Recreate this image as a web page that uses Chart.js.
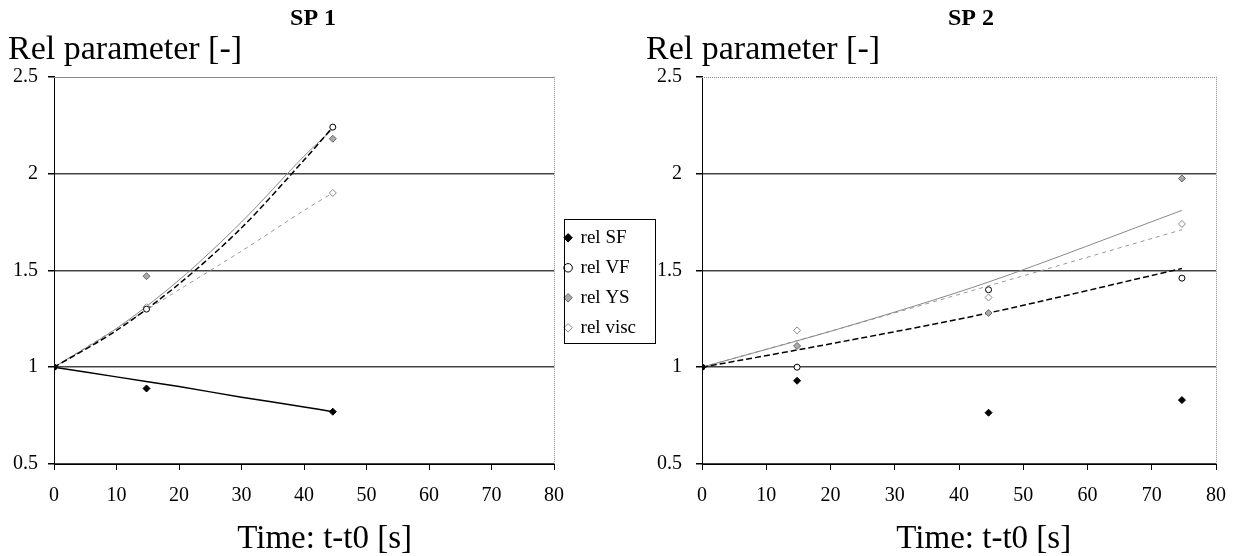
<!DOCTYPE html>
<html>
<head>
<meta charset="utf-8">
<script src="https://cdn.jsdelivr.net/npm/chart.js@4.4.1/dist/chart.umd.min.js"></script>
<style>
  body { margin: 0; background: #fff; }
  #wrap { position: relative; width: 1241px; height: 556px; background: #fff; overflow: hidden; }
  #c1 { position: absolute; left: 0; top: 0; }
  #c2 { position: absolute; left: 638px; top: 0; }
</style>
</head>
<body>
<div id="wrap">
  <canvas id="c2" width="603" height="556"></canvas>
  <canvas id="c1" width="660" height="556"></canvas>
</div>
<script>
// SP 1 measurements
var sp1Time = [0, 14.8, 44.6];
var sp1RelSF = [1, 0.89, 0.77];
var sp1RelVF = [1, 1.30, 2.24];
var sp1RelYS = [1, 1.47, 2.18];
var sp1RelVisc = [1, 1.31, 1.90];

// SP 1 trend lines
var sp1TrendTime = [0, 10, 20, 30, 40, 44.6];
var sp1TrendSF = [1, 0.95, 0.9, 0.845, 0.795, 0.77];
var sp1TrendVF = [1, 1.19, 1.43, 1.72, 2.07, 2.24];
var sp1TrendYS = [1, 1.20, 1.45, 1.75, 2.09, 2.23];
var sp1TrendVisc = [1, 1.20, 1.40, 1.60, 1.81, 1.90];

// SP 2 measurements
var sp2Time = [0, 14.8, 44.6, 74.7];
var sp2RelSF = [1, 0.93, 0.765, 0.83];
var sp2RelVF = [1, 1.00, 1.40, 1.46];
var sp2RelYS = [1, 1.11, 1.28, 1.975];
var sp2RelVisc = [1, 1.19, 1.36, 1.74];

// SP 2 trend lines
var sp2TrendTime = [0, 21.5, 44.6, 74.7];
var sp2TrendVF = [1, 1.13, 1.28, 1.51];
var sp2TrendYS = [1, 1.20, 1.44, 1.81];
var sp2TrendVisc = [1, 1.20, 1.42, 1.71];

var seriesNames = ["rel SF", "rel VF", "rel YS", "rel visc"];
var yTicks = [0.5, 1, 1.5, 2, 2.5];
var xTicks = [0, 10, 20, 30, 40, 50, 60, 70, 80];

var serif = "'Liberation Serif', 'Times New Roman', serif";

function pts(xs, ys) {
  return xs.map(function(x, i) { return { x: x, y: ys[i] }; });
}

function pointSet(label, xs, ys, style, bg, border, r) {
  return {
    label: label,
    data: pts(xs, ys),
    showLine: false,
    pointStyle: style,
    backgroundColor: bg,
    borderColor: border,
    borderWidth: 1,
    pointRadius: r,
    order: 0
  };
}

function trendSet(label, xs, ys, color, dash, width) {
  return {
    label: "trend " + label,
    data: pts(xs, ys),
    showLine: true,
    borderColor: color,
    borderWidth: width,
    borderDash: dash,
    pointRadius: 0,
    tension: 0.3,
    fill: false,
    order: 1
  };
}

// frame on top / right side of the plot
var framePlugin = {
  id: "frame",
  afterDraw: function(chart, args, opts) {
    var a = chart.chartArea;
    var ctx = chart.ctx;
    ctx.save();
    ctx.strokeStyle = "#888";
    ctx.lineWidth = 1;
    ctx.setLineDash(opts.topDash || []);
    ctx.beginPath();
    ctx.moveTo(a.left, Math.round(a.top) + 0.5);
    ctx.lineTo(a.right, Math.round(a.top) + 0.5);
    ctx.stroke();
    ctx.setLineDash([1, 1]);
    ctx.beginPath();
    ctx.moveTo(Math.round(a.right) + 0.5, a.top);
    ctx.lineTo(Math.round(a.right) + 0.5, a.bottom);
    ctx.stroke();
    ctx.restore();
  }
};

// box round the legend items
var legendBox = {
  id: "legendBox",
  afterDraw: function(chart) {
    var lg = chart.legend;
    if (!lg || !lg.legendHitBoxes || !lg.legendHitBoxes.length) return;
    var hb = lg.legendHitBoxes;
    var top = hb[0].top, left = hb[0].left, right = 0, bottom = 0;
    hb.forEach(function(h) {
      top = Math.min(top, h.top);
      left = Math.min(left, h.left);
      right = Math.max(right, h.left + h.width);
      bottom = Math.max(bottom, h.top + h.height);
    });
    var ctx = chart.ctx;
    ctx.save();
    ctx.strokeStyle = "#000";
    ctx.lineWidth = 1;
    var x0 = Math.round(left - 1) + 0.5, y0 = Math.round(top - 9) + 0.5;
    var x1 = Math.round(right + 19) + 0.5, y1 = Math.round(bottom + 6) + 0.5;
    ctx.strokeRect(x0, y0, x1 - x0, y1 - y0);
    ctx.restore();
  }
};

function makeOptions(title, xTitle, showLegend, topDash, yWidth, tickPad, padRight) {
  return {
    responsive: false,
    animation: false,
    layout: { padding: { left: 8, right: padRight, top: 0, bottom: 0 } },
    plugins: {
      frame: { topDash: topDash },
      title: {
        display: true,
        text: title,
        fullSize: false,
        color: "#000",
        font: { family: serif, size: 24, weight: "bold" },
        padding: { top: 4, bottom: 0 }
      },
      subtitle: {
        display: true,
        text: "Rel parameter [-]",
        align: "start",
        color: "#000",
        font: { family: serif, size: 34, lineHeight: 1 },
        padding: { top: 0, bottom: 10 }
      },
      legend: {
        display: showLegend,
        position: "right",
        title: { display: true, text: " ", font: { size: 8 }, padding: 0 },
        labels: {
          usePointStyle: true,
          boxWidth: 6,
          boxHeight: 6,
          padding: 11,
          color: "#000",
          font: { family: serif, size: 19 },
          filter: function(item) { return item.text.indexOf("trend") !== 0; }
        }
      },
      tooltip: { enabled: false }
    },
    scales: {
      x: {
        type: "linear",
        min: 0,
        max: 80,
        afterBuildTicks: function(s) { s.ticks = xTicks.map(function(v) { return { value: v }; }); },
        ticks: { color: "#000", font: { family: serif, size: 20 }, padding: 14, maxRotation: 0 },
        grid: { drawOnChartArea: false, drawTicks: true, tickLength: 6, tickColor: "#000" },
        border: { color: "#000", width: 1 },
        title: {
          display: true,
          text: xTitle,
          color: "#000",
          font: { family: serif, size: 33, lineHeight: 1 },
          padding: { top: 1, bottom: 0 }
        }
      },
      y: {
        type: "linear",
        min: 0.5,
        max: 2.5,
        afterBuildTicks: function(s) { s.ticks = yTicks.map(function(v) { return { value: v }; }); },
        afterFit: function(s) { s.width = yWidth; },
        ticks: {
          color: "#000",
          font: { family: serif, size: 20 },
          padding: tickPad,
          callback: function(v) { return String(v); }
        },
        grid: {
          color: function(c) { return c.tick && c.tick.value === 2.5 ? "rgba(0,0,0,0)" : "#444"; },
          lineWidth: 1.5,
          tickLength: 6,
          tickColor: "#000"
        },
        border: { color: "#000", width: 1 }
      }
    }
  };
}

// leading spaces nudge the titles to the right, as in the original
var chart1 = new Chart(document.getElementById("c1"), {
  type: "scatter",
  data: {
    datasets: [
      pointSet(seriesNames[0], sp1Time, sp1RelSF, "rectRot", "#000", "#000", 3.5),
      pointSet(seriesNames[1], sp1Time, sp1RelVF, "circle", "#fff", "#000", 3),
      pointSet(seriesNames[2], sp1Time, sp1RelYS, "rectRot", "#aaa", "#666", 3.5),
      pointSet(seriesNames[3], sp1Time, sp1RelVisc, "rectRot", "#fff", "#888", 3.5),
      trendSet(seriesNames[0], sp1TrendTime, sp1TrendSF, "#000", [], 1.5),
      trendSet(seriesNames[1], sp1TrendTime, sp1TrendVF, "#000", [6, 3], 1.5),
      trendSet(seriesNames[2], sp1TrendTime, sp1TrendYS, "#888", [], 1),
      trendSet(seriesNames[3], sp1TrendTime, sp1TrendVisc, "#999", [4, 4], 1)
    ]
  },
  options: makeOptions("   SP 1", "     Time: t-t0 [s]", true, [], 46, 10, 14),
  plugins: [framePlugin, legendBox]
});

var chart2 = new Chart(document.getElementById("c2"), {
  type: "scatter",
  data: {
    datasets: [
      pointSet(seriesNames[0], sp2Time, sp2RelSF, "rectRot", "#000", "#000", 3.5),
      pointSet(seriesNames[1], sp2Time, sp2RelVF, "circle", "#fff", "#000", 3),
      pointSet(seriesNames[2], sp2Time, sp2RelYS, "rectRot", "#aaa", "#666", 3.5),
      pointSet(seriesNames[3], sp2Time, sp2RelVisc, "rectRot", "#fff", "#888", 3.5),
      trendSet(seriesNames[1], sp2TrendTime, sp2TrendVF, "#000", [6, 3], 1.5),
      trendSet(seriesNames[2], sp2TrendTime, sp2TrendYS, "#888", [], 1),
      trendSet(seriesNames[3], sp2TrendTime, sp2TrendVisc, "#999", [4, 4], 1)
    ]
  },
  options: makeOptions("    SP 2", "      Time: t-t0 [s]", false, [1, 1], 56, 14, 25),
  plugins: [framePlugin]
});
</script>
</body>
</html>
